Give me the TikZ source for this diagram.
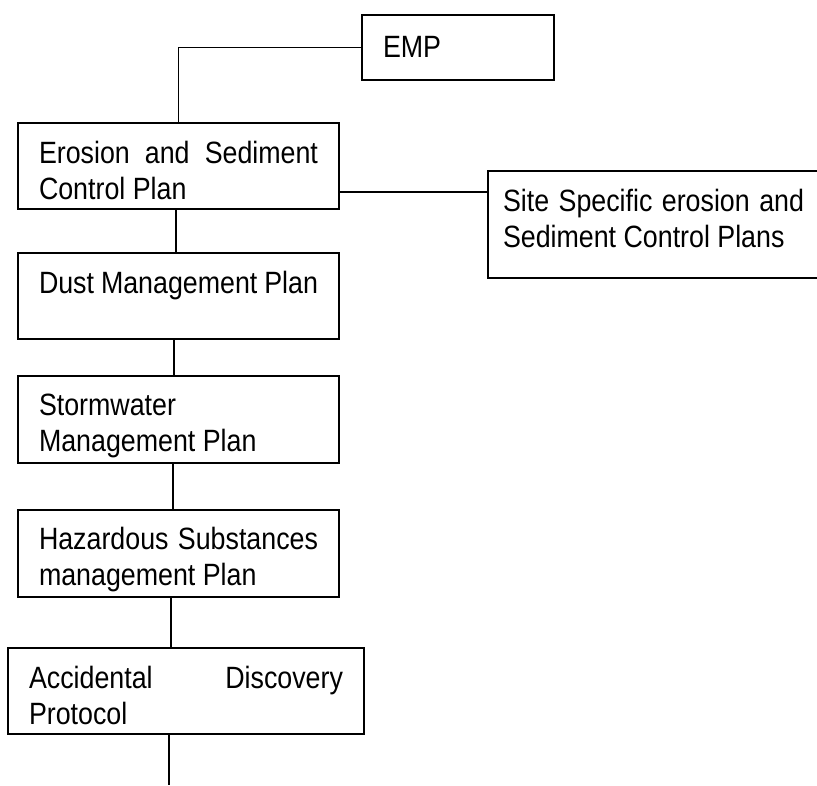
\documentclass[tikz,border=0pt]{standalone}
\usepackage{fontspec}
\setmainfont{Liberation Sans}[FakeStretch=0.87]

\begin{document}
\begin{tikzpicture}[x=1pt,y=-1pt,
    plan/.style={draw,line width=1.8pt,outer sep=0pt,anchor=north west,
      inner xsep=21pt,inner ysep=0pt,text width=279pt,align=justify,
      text height=40pt,text depth=46pt,font=\fontsize{30.8}{36}\selectfont},
    link/.style={line width=1.6pt}]
  \useasboundingbox (0,0) rectangle (817,785);
  \node[plan,text width=150pt,align=left,text height=42pt,text depth=23pt] (emp) at (362,15) {EMP};
  \node[plan] (erosion) at (18,123) {Erosion and Sediment\linebreak Control Plan};
  \node[plan,inner xsep=15pt,text width=301pt,text depth=67pt] (site) at (488,171)
    {Site Specific erosion and\linebreak Sediment Control Plans};
  \node[plan] (dust) at (18,253) {Dust Management Plan};
  \node[plan,text height=39pt,text depth=48pt] (storm) at (18,376) {Stormwater\newline Management Plan};
  \node[plan,text height=39pt,text depth=48pt] (haz) at (18,510) {Hazardous Substances\linebreak management Plan};
  \node[plan,text width=314pt] (accid) at (8,648) {Accidental Discovery\linebreak Protocol};

  \draw[link] (emp.west) -| (erosion.north);
  \coordinate (elink) at ([yshift=-26pt]erosion.east);
  \draw[link] (elink) -- (elink -| site.west);
  \foreach \a/\b/\dx in {erosion/dust/-2.5,dust/storm/-4.5,storm/haz/-5.5,haz/accid/-7.5} {
    \coordinate (drop) at ([xshift=\dx pt]\a.south);
    \draw[link] (drop) -- (drop |- \b.north);
  }
  \coordinate (tail) at (169,785);
  \draw[link] (accid.south -| tail) -- (tail);
\end{tikzpicture}
\end{document}
